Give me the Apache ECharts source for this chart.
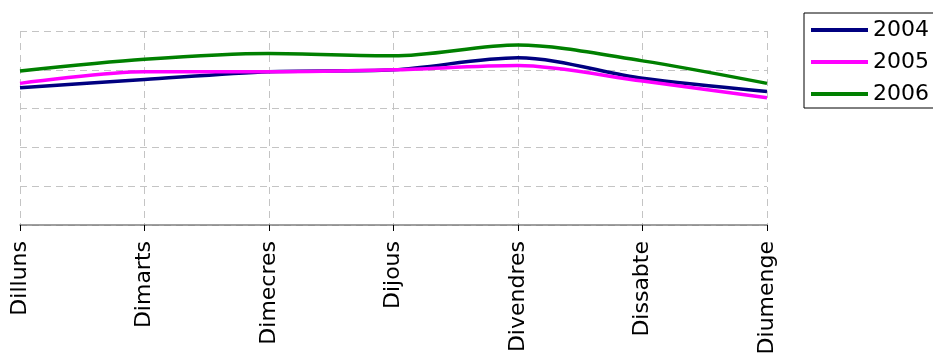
<!DOCTYPE html>
<html>
<head>
<meta charset="utf-8">
<script src="https://cdn.jsdelivr.net/npm/echarts@6/dist/echarts.min.js"></script>
<style>
html,body{margin:0;padding:0;background:#fff;}
#chart{width:933px;height:358px;}
</style>
</head>
<body>
<div id="chart"></div>
<script>
var categories = ['Dilluns','Dimarts','Dimecres','Dijous','Divendres','Dissabte','Diumenge'];
var seriesNames = ['2004','2005','2006'];
var values2004 = [3.54, 3.75, 3.95, 4.00, 4.31, 3.78, 3.44];
var values2005 = [3.65, 3.95, 3.95, 4.00, 4.11, 3.71, 3.28];
var values2006 = [3.97, 4.27, 4.42, 4.36, 4.64, 4.23, 3.65];
var colors = ['#000080', '#ff00ff', '#008000'];

var chart = echarts.init(document.getElementById('chart'), null, {renderer:'canvas'});
var font = 'DejaVu Sans';
var data = [values2004, values2005, values2006];
chart.setOption({
  animation: false,
  backgroundColor: '#ffffff',
  textStyle: {fontFamily: font},
  grid: {left: 20, right: 166, top: 31, bottom: 133, containLabel: false},
  legend: {
    left: 804, top: 13,
    orient: 'vertical',
    icon: 'rect',
    itemWidth: 57, itemHeight: 4,
    itemGap: 10,
    padding: [6, 20, 3, 7],
    borderColor: '#000', borderWidth: 1,
    textStyle: {fontFamily: font, fontSize: 22, color: '#000', lineHeight: 22},
    data: seriesNames
  },
  xAxis: {
    type: 'category',
    data: categories,
    boundaryGap: false,
    axisLine: {lineStyle: {color: '#808080', width: 1.5}},
    axisTick: {show: true, length: 6, lineStyle: {color: '#000'}},
    axisLabel: {rotate: 90, margin: 16, fontFamily: font, fontSize: 22, color: '#000'},
    splitLine: {show: true, lineStyle: {color: '#c4c4c4', type: [7, 5], width: 1}}
  },
  yAxis: {
    type: 'value', min: 0, max: 5, interval: 1,
    axisLine: {show: false}, axisTick: {show: false}, axisLabel: {show: false},
    splitLine: {show: true, lineStyle: {color: '#c4c4c4', type: [7, 5], width: 1}}
  },
  series: seriesNames.map(function(n, i){
    return {
      name: n, type: 'line', data: data[i], smooth: 0.3,
      showSymbol: false, symbol: 'none',
      lineStyle: {color: colors[i], width: 3.5},
      itemStyle: {color: colors[i]}
    };
  })
});
</script>
</body>
</html>
